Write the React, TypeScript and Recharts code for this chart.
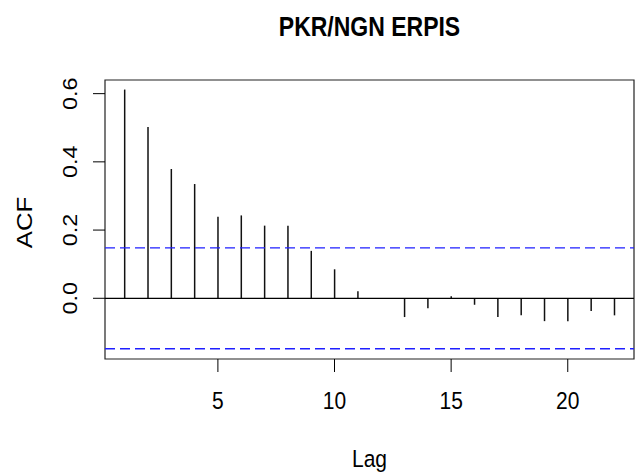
import { ComposedChart, Bar, XAxis, YAxis, ReferenceLine, ReferenceArea } from "recharts";

// acf values, lags 1..22
const lags = [1, 2, 3, 4, 5, 6, 7, 8, 9, 10, 11, 12, 13, 14, 15, 16, 17, 18, 19, 20, 21, 22];
const acfValues = [
  0.612, 0.502, 0.379, 0.335, 0.239, 0.243, 0.213, 0.213, 0.139, 0.085, 0.021,
  0.001, -0.055, -0.029, 0.006, -0.019, -0.055, -0.05, -0.067, -0.067, -0.037, -0.05,
];
const ciBound = 0.148;
const xTicks = [5, 10, 15, 20];
const yTicks = [0, 0.2, 0.4, 0.6];
const yTickLabels = ["0.0", "0.2", "0.4", "0.6"];

const FONT = "'Liberation Sans', Arial, sans-serif";
const W = 638;
const H = 472;
const PLOT_LEFT = 105;
const PLOT_TOP = 80;
const PLOT_RIGHT = 634;
const PLOT_BOTTOM = 359;
const X_DOMAIN: [number, number] = [0.16, 22.84];
const Y_DOMAIN: [number, number] = [-0.178, 0.64];

const data = lags.map((lag, i) => ({ lag, acf: acfValues[i] }));

// R text looks a bit tall and narrow, so stretch it vertically
function HText({ x, y, size, bold, children }: any) {
  return (
    <text
      transform={`translate(${x},${y}) scale(1,1.17)`}
      textAnchor="middle"
      fontFamily={FONT}
      fontSize={size}
      fontWeight={bold ? "bold" : "normal"}
      fill="#000"
    >
      {children}
    </text>
  );
}

function VText({ x, y, size, children }: any) {
  return (
    <text
      transform={`translate(${x},${y}) rotate(-90) scale(1.17,1)`}
      textAnchor="middle"
      fontFamily={FONT}
      fontSize={size}
      fill="#000"
    >
      {children}
    </text>
  );
}

const XTick = (props: any) => (
  <HText x={props.x} y={PLOT_BOTTOM + 50} size={21}>
    {props.payload.value}
  </HText>
);

const YTick = (props: any) => {
  const idx = yTicks.indexOf(props.payload.value);
  return (
    <VText x={PLOT_LEFT - 28} y={props.y} size={20}>
      {idx >= 0 ? yTickLabels[idx] : props.payload.value}
    </VText>
  );
};

export default function App() {
  return (
    <div style={{ position: "absolute", left: 0, top: 0, width: W, height: H, background: "#fff" }}>
      <ComposedChart
        width={W}
        height={H}
        data={data}
        margin={{ top: PLOT_TOP, right: W - PLOT_RIGHT, bottom: 0, left: 0 }}
      >
        <XAxis
          dataKey="lag"
          type="number"
          domain={X_DOMAIN}
          ticks={xTicks}
          allowDataOverflow
          axisLine={false}
          tickLine={{ stroke: "#000", strokeWidth: 1 }}
          tickSize={13}
          height={H - PLOT_BOTTOM}
          tick={<XTick />}
        />
        <YAxis
          type="number"
          domain={Y_DOMAIN}
          ticks={yTicks}
          allowDataOverflow
          axisLine={false}
          tickLine={{ stroke: "#000", strokeWidth: 1 }}
          tickSize={12}
          width={PLOT_LEFT}
          tick={<YTick />}
        />
        <ReferenceArea
          x1={X_DOMAIN[0]}
          x2={X_DOMAIN[1]}
          y1={Y_DOMAIN[0]}
          y2={Y_DOMAIN[1]}
          fill="none"
          stroke="#222"
          strokeWidth={1.2}
          ifOverflow="extendDomain"
        />
        <ReferenceLine y={0} stroke="#000" strokeWidth={1.2} />
        <ReferenceLine y={ciBound} stroke="#1f1fff" strokeWidth={1.3} strokeDasharray="10 5" />
        <ReferenceLine y={-ciBound} stroke="#1f1fff" strokeWidth={1.3} strokeDasharray="10 5" />
        <Bar dataKey="acf" fill="#111" barSize={1.5} isAnimationActive={false} />
      </ComposedChart>
      <svg width={W} height={H} style={{ position: "absolute", left: 0, top: 0, pointerEvents: "none" }}>
        <HText x={(PLOT_LEFT + PLOT_RIGHT) / 2} y={36} size={23} bold>
          PKR/NGN ERPIS
        </HText>
        <HText x={(PLOT_LEFT + PLOT_RIGHT) / 2} y={467} size={21}>
          Lag
        </HText>
        <VText x={32} y={(PLOT_TOP + PLOT_BOTTOM) / 2 + 3} size={22}>
          ACF
        </VText>
      </svg>
    </div>
  );
}
